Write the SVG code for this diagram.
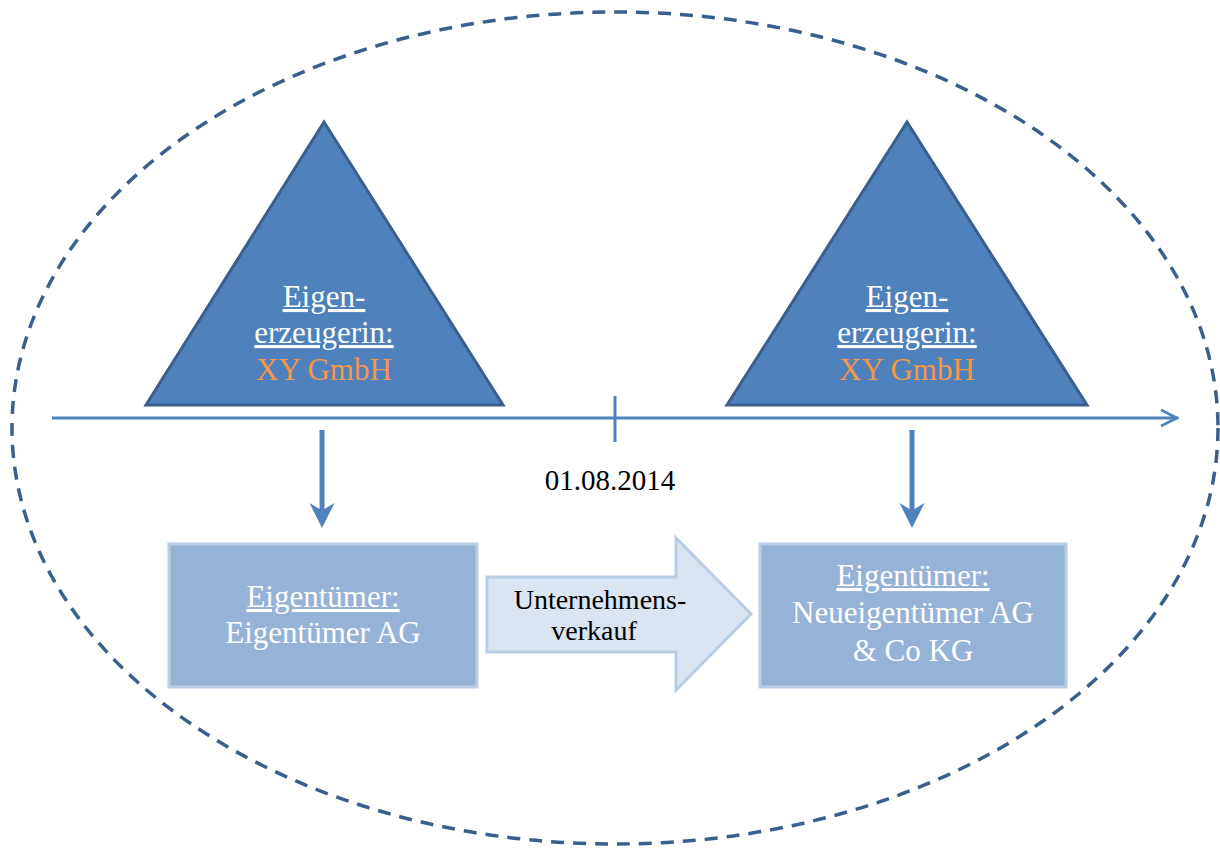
<svg xmlns="http://www.w3.org/2000/svg" width="1220" height="849" viewBox="0 0 1220 849">
  <style>
    .tri { fill: #4f81bd; stroke: #3a5f8c; stroke-width: 3; stroke-linejoin: miter; }
    .box { fill: #95b3d7; stroke: #b9cde5; stroke-width: 3; }
    .big { fill: #dbe5f1; stroke: #b9cde5; stroke-width: 3; }
    .t { font-family: "Liberation Serif", "DejaVu Serif", serif; text-anchor: middle; }
    .w { fill: #ffffff; font-size: 31px; }
    .o { fill: #f79646; font-size: 31px; }
    .k { fill: #000000; }
    .line { stroke: #4f81bd; stroke-width: 3; fill: none; }
  </style>
  <defs>
    <marker id="open" viewBox="0 0 20 20" refX="19" refY="10" markerWidth="20" markerHeight="20" orient="auto" markerUnits="userSpaceOnUse">
      <path d="M2,2 L18,10 L2,18" fill="none" stroke="#4f81bd" stroke-width="2.6"/>
    </marker>
    <marker id="head" viewBox="0 0 10 10" refX="8" refY="5" markerWidth="5" markerHeight="5" orient="auto">
      <path d="M0,0 L10,5 L0,10 L3,5 Z" fill="#4f81bd"/>
    </marker>
  </defs>

  <!-- dashed boundary -->
  <ellipse id="boundary" cx="615" cy="428" rx="603" ry="416" fill="none" stroke="#3a5f8c" stroke-width="3.5" stroke-dasharray="13 9"/>

  <!-- connectors -->
  <g id="connectors">
    <line class="line" x1="52" y1="418" x2="1178" y2="418" marker-end="url(#open)"/>
    <line class="line" x1="615" y1="396" x2="615" y2="442"/>
    <line x1="322" y1="430" x2="322" y2="523" stroke="#4f81bd" stroke-width="5" marker-end="url(#head)"/>
    <line x1="912" y1="430" x2="912" y2="523" stroke="#4f81bd" stroke-width="5" marker-end="url(#head)"/>
  </g>

  <g id="date">
    <text class="t k" x="610" y="490" font-size="29">01.08.2014</text>
  </g>

  <g id="producer-before">
    <polygon class="tri" points="324,122 503,405 146,405"/>
    <text class="t w" x="324" y="307" text-decoration="underline">Eigen-</text>
    <text class="t w" x="324" y="343" text-decoration="underline">erzeugerin:</text>
    <text class="t o" x="324" y="380">XY GmbH</text>
  </g>

  <g id="producer-after">
    <polygon class="tri" points="907,122 1087,405 727,405"/>
    <text class="t w" x="907" y="307" text-decoration="underline">Eigen-</text>
    <text class="t w" x="907" y="343" text-decoration="underline">erzeugerin:</text>
    <text class="t o" x="907" y="380">XY GmbH</text>
  </g>

  <g id="owner-before">
    <rect class="box" x="169" y="544" width="308" height="143"/>
    <text class="t w" x="323" y="607" text-decoration="underline">Eigentümer:</text>
    <text class="t w" x="323" y="643">Eigentümer AG</text>
  </g>

  <g id="sale">
    <path class="big" d="M487,577 H676 V538 L751,614 L676,690 V652 H487 Z"/>
    <text class="t k" x="600" y="609" font-size="28">Unternehmens-</text>
    <text class="t k" x="594" y="640" font-size="28">verkauf</text>
  </g>

  <g id="owner-after">
    <rect class="box" x="760" y="544" width="306" height="143"/>
    <text class="t w" x="913" y="586" text-decoration="underline">Eigentümer:</text>
    <text class="t w" x="913" y="623">Neueigentümer AG</text>
    <text class="t w" x="913" y="661">&amp; Co KG</text>
  </g>
</svg>
